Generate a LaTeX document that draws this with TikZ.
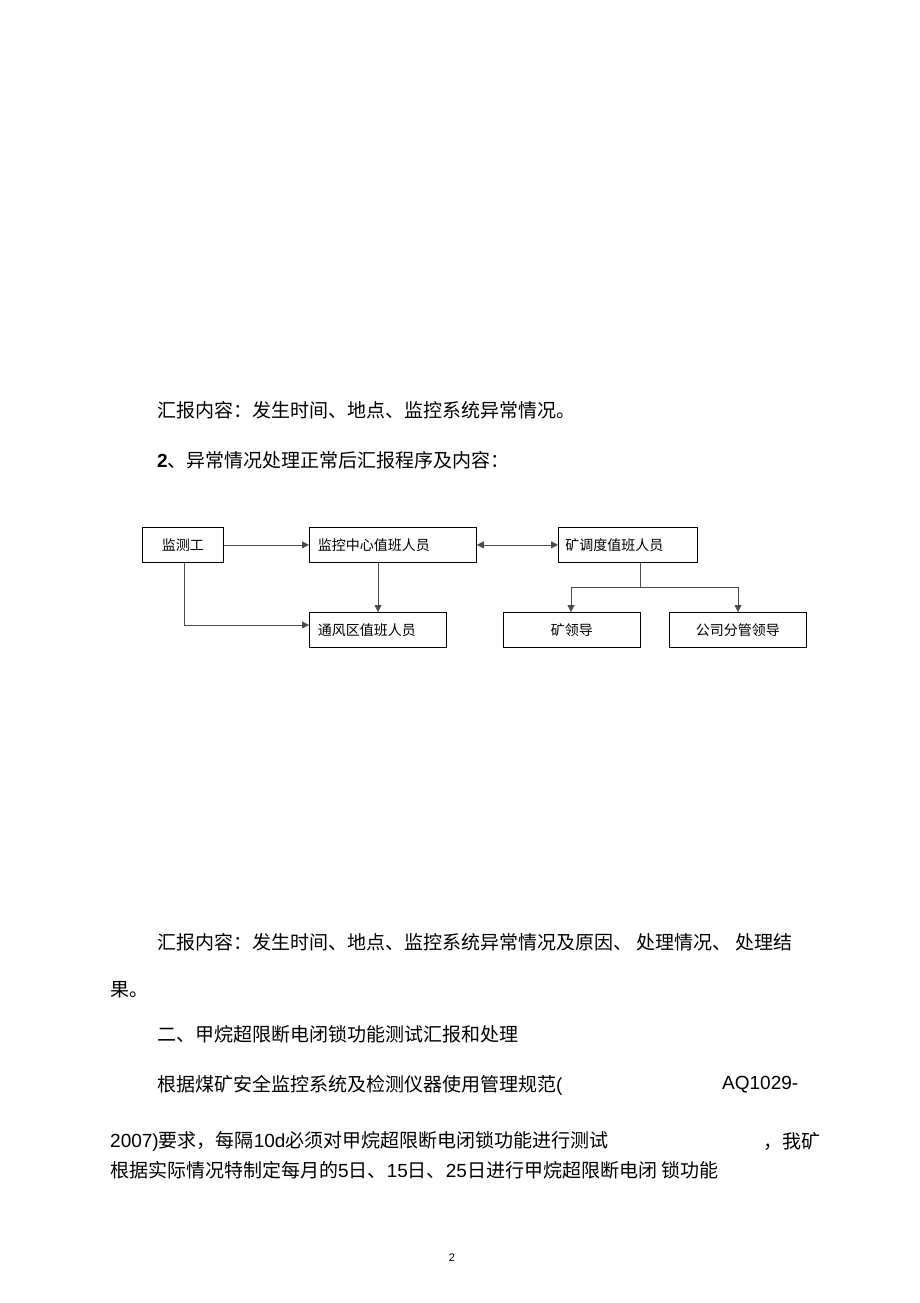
\documentclass[tikz,border=0pt]{standalone}
\usepackage{fontspec}
\setmainfont{Noto Sans CJK SC}
\newfontfamily\lat{Liberation Sans}
\usetikzlibrary{arrows.meta}
\begin{document}
\begin{tikzpicture}[x=1pt,y=-1pt,
  bx/.style={draw,thick,minimum height=35pt,anchor=north west,inner sep=0pt},
  txt/.style={anchor=west,inner sep=0pt,font=\fontsize{19}{19}\selectfont},
  ln/.style={draw,thick,gray!60!black},
  ar/.style={ln,-{Triangle[length=7pt,width=7pt]}}]
\useasboundingbox (0,0) rectangle (920,1303);
\node[txt] (t1) at (157,410) {汇报内容：发生时间、地点、监控系统异常情况。};
\node[txt] (t2) at (157,460) {{\lat\bfseries 2}、异常情况处理正常后汇报程序及内容：};
\begin{scope}[every node/.append style={font=\fontsize{14}{14}\selectfont}]
\node[bx,minimum width=81pt] (a) at (142,527) {监测工};
\node[bx,minimum width=167pt,align=left,text width=150pt] (b) at (309,527) {监控中心值班人员};
\node[bx,minimum width=139pt,align=left,text width=125pt] (c) at (558,527) {矿调度值班人员};
\node[bx,minimum width=137pt,align=left,text width=120pt] (d) at (309,612) {通风区值班人员};
\node[bx,minimum width=137pt] (e) at (503,612) {矿领导};
\node[bx,minimum width=137pt] (f) at (669,612) {公司分管领导};
\end{scope}
\draw[ar] (a.east) -- (b.west);
\draw[ar,{Triangle[length=7pt,width=7pt]}-{Triangle[length=7pt,width=7pt]}] (b.east) -- (c.west);
\draw[ar] (b.south -| 378,0) -- (d.north -| 378,0);
\draw[ar] (a.south -| 184,0) |- (d.west |- 0,625);
\coordinate (j) at (640,587);
\draw[ln] (c.south -| j) -- (j);
\draw[ar] (j) -| (e.north -| 571,0);
\draw[ar] (j) -| (f.north -| 738,0);
\node[txt] (t3) at (157,942) {汇报内容：发生时间、地点、监控系统异常情况及原因、 处理情况、 处理结};
\node[txt] (t4) at (110,990) {果。};
\node[txt] (t5) at (157,1034) {二、甲烷超限断电闭锁功能测试汇报和处理};
\node[txt] (t6) at (157,1085) {根据煤矿安全监控系统及检测仪器使用管理规范{\lat(}};
\node[txt] (t7) at (722,1085) {\lat AQ1029-};
\node[txt] (t8) at (110,1141) {{\lat 2007)}要求，每隔{\lat 10d}必须对甲烷超限断电闭锁功能进行测试};
\node[txt] (t9) at (763,1141) {，我矿};
\node[txt] (t10) at (110,1170) {根据实际情况特制定每月的{\lat 5}日、{\lat 15}日、{\lat 25}日进行甲烷超限断电闭 锁功能};
\node[font=\fontsize{11}{11}\lat] (pg) at (452,1258) {2};
\end{tikzpicture}
\end{document}
